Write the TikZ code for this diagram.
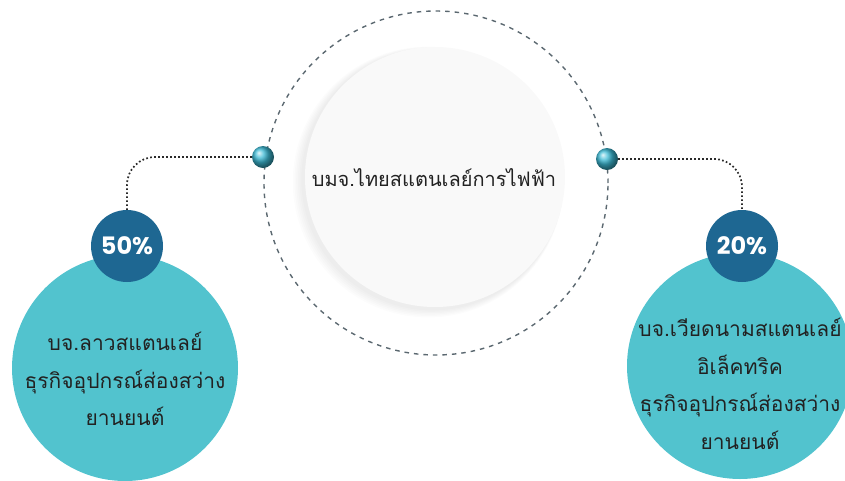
\documentclass[tikz,border=0pt]{standalone}
\usepackage{fontspec}
\newfontfamily\thaifont[Script=Thai]{Loma}
\newfontfamily\pctfont{Poppins}
\usetikzlibrary{shadings}
\definecolor{teal1}{HTML}{52C3CE}
\definecolor{navy1}{HTML}{1E6792}
\definecolor{dashgray}{HTML}{5B6870}
\definecolor{dotgray}{HTML}{2A2A2A}
\definecolor{txt}{HTML}{222222}
\definecolor{ballc}{HTML}{3DBBD6}
\tikzset{
  tealcirc/.style={circle, fill=teal1, minimum size=226pt, inner sep=0pt},
  pctcirc/.style={circle, fill=navy1, minimum size=72pt, inner sep=0pt, text=white, font=\pctfont\bfseries\fontsize{24}{24}\selectfont},
  knob/.style={circle, shading=ball, ball color=ballc, minimum size=22pt, inner sep=0pt},
  conn/.style={dotgray, line width=1.7pt, dash pattern=on 1.7pt off 2.3pt, rounded corners=28pt},
  thaitext/.style={text=txt, align=center, font=\thaifont\fontsize{21}{37.5}\selectfont},
}
\begin{document}
\begin{tikzpicture}[x=1pt,y=-1pt]
\useasboundingbox (0,0) rectangle (845,480);
\clip (0,0) rectangle (845,480);
% outer dashed ring
\node[circle, draw=dashgray, line width=1.4pt, dash pattern=on 4.5pt off 5pt, minimum size=344pt, inner sep=0pt] (ring) at (436,183) {};
% soft shadow for the white disc
\foreach \i in {1,...,6}{
  \fill[black, opacity=0.012] (433-\i*0.8,179+\i*0.5) circle (130+\i*0.9);
}
\node[circle, fill=white!95!gray, minimum size=260pt, inner sep=0pt] (disc) at (435,177) {};
\node[text=txt, font=\thaifont\fontsize{20}{20}\selectfont] (main) at (434,178) {บมจ.ไทยสแตนเลย์การไฟฟ้า};
% knobs
\node[knob] (lball) at (263,157) {};
\node[knob] (rball) at (607,159) {};
% teal circles
\node[tealcirc] (lteal) at (125,368) {};
\node[tealcirc] (rteal) at (740,366) {};
% percentage circles
\node[pctcirc] (p50) at (127,246) {50\%};
\node[pctcirc] (p20) at (742,246) {20\%};
% connectors
\draw[conn] (lball.west) -| (p50.north);
\draw[conn] (rball.east) -| (p20.north);
% texts
\node[thaitext] (ltext) at (125,379) {บจ.ลาวสแตนเลย์\\ธุรกิจอุปกรณ์ส่องสว่าง\\ยานยนต์};
\node[thaitext] (rtext) at (740,384) {บจ.เวียดนามสแตนเลย์\\อิเล็คทริค\\ธุรกิจอุปกรณ์ส่องสว่าง\\ยานยนต์};
\end{tikzpicture}
\end{document}
